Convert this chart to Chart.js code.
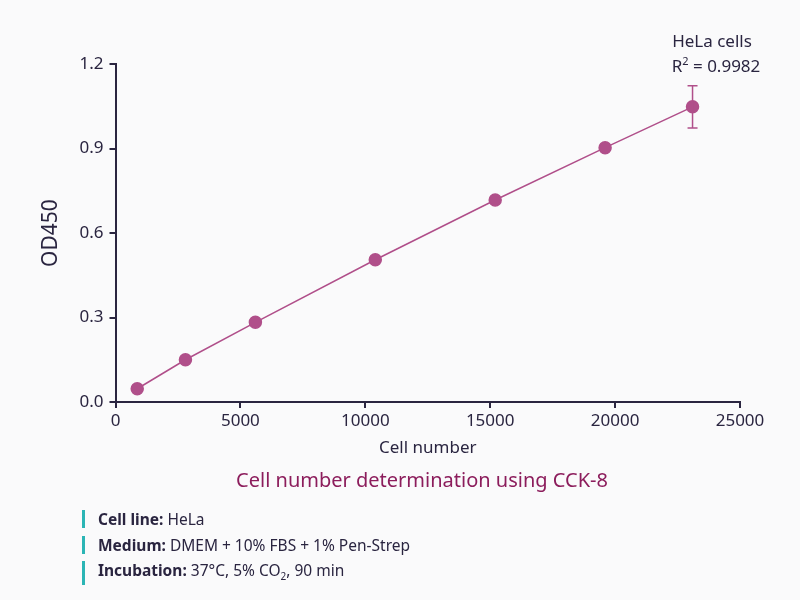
<!DOCTYPE html>
<html lang="en">
<head>
    <meta charset="UTF-8">
    <title>Cell number determination using CCK-8</title>
    <style>
        body {
            margin: 0;
            background: #fafafb;
            font-family: "Noto Sans", "Open Sans", sans-serif;
            color: #2a2540;
        }
        #wrap {
            position: relative;
            width: 800px;
            height: 600px;
        }
        #chart {
            position: absolute;
            left: 0;
            top: 0;
        }
        .label {
            position: absolute;
            font-size: 17px;
            text-align: center;
            white-space: nowrap;
        }
        #caption {
            position: absolute;
            left: 0;
            width: 844px;
            top: 466px;
            text-align: center;
            font-size: 20px;
            color: #8c1d5c;
        }
        .note {
            position: absolute;
            left: 82px;
            font-size: 15.5px;
            padding-left: 13px;
            border-left: 3px solid #2bb5b5;
            line-height: 18px;
        }
        .note b { font-weight: 700; }
    </style>
</head>
<body>
<div id="wrap">
    <canvas id="chart" width="800" height="600"></canvas>
    <div class="label" style="left:650px; top:29px; width:124px;">HeLa cells</div>
    <div class="label" style="left:650px; top:53px; width:132px;">R<sup style="font-size:11px">2</sup> = 0.9982</div>
    <div id="caption">Cell number determination using CCK-8</div>
    <div class="note" style="top:510px;"><b>Cell line:</b> HeLa</div>
    <div class="note" style="top:536px;"><b>Medium:</b> DMEM + 10% FBS + 1% Pen-Strep</div>
    <div class="note" style="top:561px;"><b>Incubation:</b> 37°C, 5% CO<sub style="font-size:10px">2</sub>, 90 min</div>
</div>
<script src="https://cdn.jsdelivr.net/npm/chart.js@4.4.1/dist/chart.umd.min.js"></script>
<script>
    // data
    const cellNumbers = [870, 2800, 5600, 10400, 15200, 19600, 23100];
    const od450 = [0.047, 0.150, 0.283, 0.505, 0.717, 0.903, 1.048];
    const od450Err = [0, 0, 0, 0, 0, 0, 0.075];
    const xTicks = [0, 5000, 10000, 15000, 20000, 25000];
    const yTicks = [0.0, 0.3, 0.6, 0.9, 1.2];

    const lineColor = "#b04f8a";
    const axisColor = "#2a2540";

    // vertical error bars, drawn through the y scale
    const errorBars = {
        id: "errorBars",
        afterDatasetsDraw(chart) {
            const ctx = chart.ctx;
            const xs = chart.scales.x;
            const ys = chart.scales.y;
            ctx.save();
            ctx.strokeStyle = lineColor;
            ctx.lineWidth = 1.5;
            cellNumbers.forEach((c, i) => {
                const e = od450Err[i];
                if (!e) return;
                const px = xs.getPixelForValue(c);
                const top = ys.getPixelForValue(od450[i] + e);
                const bot = ys.getPixelForValue(od450[i] - e);
                ctx.beginPath();
                ctx.moveTo(px, top);
                ctx.lineTo(px, bot);
                ctx.moveTo(px - 5, top);
                ctx.lineTo(px + 5, top);
                ctx.moveTo(px - 5, bot);
                ctx.lineTo(px + 5, bot);
                ctx.stroke();
            });
            ctx.restore();
        }
    };

    new Chart(document.getElementById("chart"), {
        type: "scatter",
        data: {
            datasets: [{
                data: cellNumbers.map((c, i) => ({ x: c, y: od450[i] })),
                showLine: true,
                borderColor: lineColor,
                borderWidth: 1.5,
                backgroundColor: lineColor,
                pointRadius: 6,
                pointHoverRadius: 6,
                tension: 0
            }]
        },
        options: {
            responsive: false,
            animation: false,
            layout: { padding: { left: 34, right: 60, top: 64, bottom: 138 } },
            plugins: {
                legend: { display: false },
                tooltip: { enabled: false }
            },
            scales: {
                x: {
                    type: "linear",
                    min: 0,
                    max: 25000,
                    afterBuildTicks: s => { s.ticks = xTicks.map(v => ({ value: v })); },
                    afterFit: s => { s.height = 60; },
                    border: { color: axisColor, width: 2 },
                    grid: { drawOnChartArea: false, color: axisColor, lineWidth: 2, tickLength: 6 },
                    ticks: { color: axisColor, font: { family: "Noto Sans", size: 17 }, padding: 3, maxRotation: 0, callback: v => String(v) },
                    title: { display: true, text: "Cell number", color: axisColor, font: { family: "Noto Sans", size: 17 }, padding: { top: 2 } }
                },
                y: {
                    min: 0,
                    max: 1.2,
                    afterBuildTicks: s => { s.ticks = yTicks.map(v => ({ value: v })); },
                    afterFit: s => { s.width = 81.5; },
                    border: { color: axisColor, width: 2 },
                    grid: { drawOnChartArea: false, color: axisColor, lineWidth: 2, tickLength: 6 },
                    ticks: { color: axisColor, font: { family: "Noto Sans", size: 17 }, padding: 6, callback: v => v.toFixed(1) },
                    title: { display: true, text: "OD450", color: axisColor, font: { family: "Noto Sans", size: 21 }, padding: { bottom: 10 } }
                }
            }
        },
        plugins: [errorBars]
    });
</script>
</body>
</html>
